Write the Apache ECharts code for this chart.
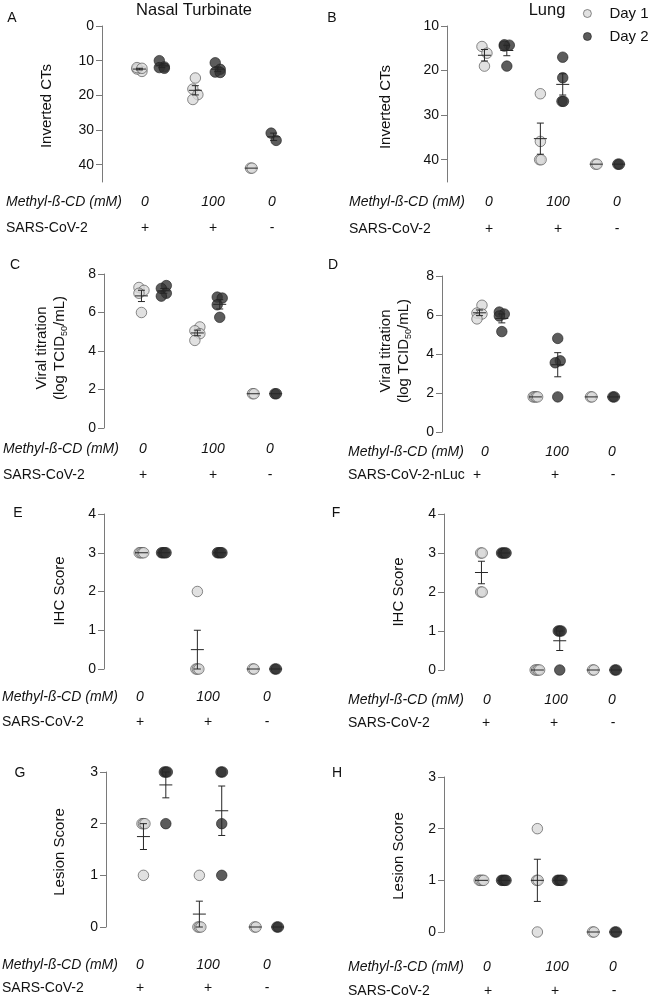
<!DOCTYPE html>
<html>
<head>
<meta charset="utf-8">
<script src="https://cdn.jsdelivr.net/npm/echarts@6/dist/echarts.min.js"></script>
<style>
  html, body { margin: 0; padding: 0; background: #fff; }
  #main { width: 655px; height: 997px; }
</style>
</head>
<body>
<div id="main"></div>
<script>
// row labels under every panel
const doseLabels = ['0', '100', '0'];
const virusLabels = ['+', '+', '-'];
const dayNames = ['Day 1', 'Day 2'];

// individual animals, per group (0 mM +, 100 mM +, 0 mM -)
const ntCtDay1 = [[13.1, 12.4, 12.0, 12.2], [15.0, 18.2, 19.8, 21.2], [41, 41]];
const ntCtDay2 = [[10.0, 11.8, 12.0, 12.2], [10.6, 12.5, 13.3, 13.4], [30.9, 33.0]];
const lungCtDay1 = [[14.6, 16.1, 19.0], [25.2, 35.9, 40, 40], [41, 41]];
const lungCtDay2 = [[14.2, 14.3, 14.5, 19.0], [17.0, 21.6, 26.9, 26.9], [41, 41]];

const ntTiterDay1 = [[7.3, 7.15, 7.0, 6.0], [5.25, 5.05, 4.9, 4.55], [1.78, 1.78]];
const ntTiterDay2 = [[7.4, 7.25, 7.0, 6.85], [6.8, 6.75, 6.4, 5.75], [1.78, 1.78]];
const lungTiterDay1 = [[6.5, 6.1, 6.05, 5.8], [1.8, 1.8, 1.8, 1.8], [1.8, 1.8]];
const lungTiterDay2 = [[6.15, 6.05, 5.95, 5.15], [4.8, 3.65, 3.55, 1.8], [1.8, 1.8]];

const ntIhcDay1 = [[3, 3, 3, 3], [2, 0, 0, 0], [0, 0]];
const ntIhcDay2 = [[3, 3, 3, 3], [3, 3, 3, 3], [0, 0]];
const lungIhcDay1 = [[3, 3, 2, 2], [0, 0, 0, 0], [0, 0]];
const lungIhcDay2 = [[3, 3, 3, 3], [1, 1, 1, 0], [0, 0]];

const ntLesionDay1 = [[2, 2, 2, 1], [1, 0, 0, 0], [0, 0]];
const ntLesionDay2 = [[3, 3, 3, 2], [3, 3, 2, 1], [0, 0]];
const lungLesionDay1 = [[1, 1, 1, 1], [2, 1, 1, 0], [0, 0]];
const lungLesionDay2 = [[1, 1, 1, 1], [1, 1, 1, 1], [0, 0]];

const FONT = 'Liberation Sans, Arial, sans-serif';
const X_MIN = 0.13, X_MAX = 3.6, GRID_W = 194;
const DAY_OFF = 0.2;
const UNIT_PX = GRID_W / (X_MAX - X_MIN);

const panels = [
  { letter: 'A', d1: ntCtDay1, d2: ntCtDay2, min: 0, max: 45, inverse: true, ticks: [0, 10, 20, 30, 40],
    grid: { left: 102, top: 26, height: 156 }, yTitle: 'Inverted CTs', yTitlePos: [47, 106],
    letterPos: [12, 18], rowLeft: 6, doseX: [145, 213, 272], plusX: [145, 213, 272], rowY: [202, 228], virus: 'SARS-CoV-2' },
  { letter: 'B', d1: lungCtDay1, d2: lungCtDay2, min: 10, max: 45, inverse: true, ticks: [10, 20, 30, 40],
    grid: { left: 447, top: 26, height: 156 }, yTitle: 'Inverted CTs', yTitlePos: [386, 107],
    letterPos: [332, 18], rowLeft: 349, doseX: [489, 558, 617], plusX: [489, 558, 617], rowY: [202, 229], virus: 'SARS-CoV-2' },
  { letter: 'C', d1: ntTiterDay1, d2: ntTiterDay2, min: 0, max: 8, ticks: [0, 2, 4, 6, 8],
    grid: { left: 104, top: 274, height: 154 }, titer: true, yTitlePos: [51, 348],
    letterPos: [15, 265], rowLeft: 3, doseX: [143, 213, 270], plusX: [143, 213, 270], rowY: [449, 475], virus: 'SARS-CoV-2' },
  { letter: 'D', d1: lungTiterDay1, d2: lungTiterDay2, min: 0, max: 8, ticks: [0, 2, 4, 6, 8],
    grid: { left: 442, top: 276, height: 156 }, titer: true, yTitlePos: [395, 351],
    letterPos: [333, 265], rowLeft: 348, doseX: [485, 557, 612], plusX: [477, 555, 613], rowY: [452, 475], virus: 'SARS-CoV-2-nLuc' },
  { letter: 'E', d1: ntIhcDay1, d2: ntIhcDay2, min: 0, max: 4, ticks: [0, 1, 2, 3, 4],
    grid: { left: 104, top: 514, height: 155 }, yTitle: 'IHC Score', yTitlePos: [60, 591],
    letterPos: [18, 513], rowLeft: 2, doseX: [140, 208, 267], plusX: [140, 208, 267], rowY: [697, 722], virus: 'SARS-CoV-2' },
  { letter: 'F', d1: lungIhcDay1, d2: lungIhcDay2, min: 0, max: 4, ticks: [0, 1, 2, 3, 4],
    grid: { left: 444, top: 514, height: 156 }, yTitle: 'IHC Score', yTitlePos: [399, 592],
    letterPos: [336, 513], rowLeft: 348, doseX: [487, 556, 612], plusX: [486, 554, 613], rowY: [700, 723], virus: 'SARS-CoV-2' },
  { letter: 'G', d1: ntLesionDay1, d2: ntLesionDay2, min: 0, max: 3, ticks: [0, 1, 2, 3],
    grid: { left: 106, top: 772, height: 155 }, yTitle: 'Lesion Score', yTitlePos: [60, 852],
    letterPos: [20, 773], rowLeft: 2, doseX: [140, 208, 267], plusX: [140, 208, 267], rowY: [965, 988], virus: 'SARS-CoV-2' },
  { letter: 'H', d1: lungLesionDay1, d2: lungLesionDay2, min: 0, max: 3, ticks: [0, 1, 2, 3],
    grid: { left: 444, top: 777, height: 155 }, yTitle: 'Lesion Score', yTitlePos: [399, 856],
    letterPos: [337, 773], rowLeft: 348, doseX: [487, 557, 613], plusX: [488, 555, 614], rowY: [967, 991], virus: 'SARS-CoV-2' }
];

// spread overlapping points sideways a bit, like the prism scatter does
function spreadOffsets(vals, pxPerUnit) {
  const idx = vals.map((v, i) => i).sort((a, b) => vals[a] - vals[b]);
  const off = new Array(vals.length).fill(0);
  let start = 0;
  for (let i = 1; i <= idx.length; i++) {
    if (i === idx.length || (vals[idx[i]] - vals[idx[i - 1]]) * pxPerUnit >= 9) {
      const cl = idx.slice(start, i);
      const k = cl.length;
      if (k > 1) {
        const allEq = cl.every(j => vals[j] === vals[cl[0]]);
        cl.forEach((j, n) => {
          off[j] = allEq ? (n - (k - 1) / 2) * 1.5 : (n % 2 === 0 ? -2.5 : 2.5);
        });
      }
      start = i;
    }
  }
  return off;
}

function meanSem(vals) {
  const n = vals.length;
  const m = vals.reduce((a, b) => a + b, 0) / n;
  if (n < 2) return [m, 0];
  const sd = Math.sqrt(vals.reduce((a, b) => a + (b - m) * (b - m), 0) / (n - 1));
  return [m, sd / Math.sqrt(n)];
}

const dayStyle = [
  { color: '#d9d9d9', borderColor: '#4a4a4a', borderWidth: 0.8 },
  { color: '#333333', borderColor: '#1e1e1e', borderWidth: 0.8 }
];

const grids = [], xAxes = [], yAxes = [], series = [], graphics = [];

function txt(x, y, text, opts) {
  graphics.push({
    type: 'text', x: x, y: y, silent: true, rotation: opts && opts.rotation || 0,
    style: Object.assign({
      text: text, fontFamily: FONT, fontSize: 14, fill: '#111',
      align: 'center', verticalAlign: 'middle'
    }, opts && opts.style)
  });
}

panels.forEach((p, gi) => {
  grids.push({ left: p.grid.left, top: p.grid.top, width: GRID_W, height: p.grid.height, outerBoundsMode: 'none' });
  xAxes.push({ gridIndex: gi, type: 'value', min: X_MIN, max: X_MAX, show: false });
  yAxes.push({
    gridIndex: gi, type: 'value', min: p.min, max: p.max, inverse: !!p.inverse,
    axisLine: { show: true, lineStyle: { color: '#7a7a7a', width: 1 } },
    axisTick: { show: true, length: 6, lineStyle: { color: '#7a7a7a' }, customValues: p.ticks },
    axisLabel: { customValues: p.ticks, color: '#111', fontSize: 14, margin: 8, fontFamily: FONT },
    splitLine: { show: false }
  });
  const pxPerUnit = p.grid.height / (p.max - p.min);
  const bars = [];
  [p.d1, p.d2].forEach((groups, di) => {
    const pts = [];
    groups.forEach((vals, g) => {
      const cx = g + 1 + (di === 0 ? -DAY_OFF : DAY_OFF);
      const off = spreadOffsets(vals, pxPerUnit);
      vals.forEach((v, k) => pts.push([cx + off[k] / UNIT_PX, v]));
      const ms = meanSem(vals);
      bars.push([cx, ms[0], ms[1]]);
    });
    series.push({
      type: 'scatter', name: dayNames[di], xAxisIndex: gi, yAxisIndex: gi,
      data: pts, symbol: 'circle', symbolSize: 10.5, itemStyle: dayStyle[di],
      z: 2, silent: true
    });
  });
  series.push({
    type: 'custom', xAxisIndex: gi, yAxisIndex: gi, data: bars, z: 5, silent: true,
    renderItem: function (params, api) {
      const x = api.value(0), m = api.value(1), s = api.value(2);
      const c = api.coord([x, m]);
      const st = { stroke: '#262626', lineWidth: 1 };
      const ch = [{ type: 'line', shape: { x1: c[0] - 6.5, y1: c[1], x2: c[0] + 6.5, y2: c[1] }, style: st }];
      if (s > 0) {
        const hi = api.coord([x, m + s]), lo = api.coord([x, m - s]);
        ch.push({ type: 'line', shape: { x1: c[0], y1: hi[1], x2: c[0], y2: lo[1] }, style: st });
        ch.push({ type: 'line', shape: { x1: c[0] - 3.5, y1: hi[1], x2: c[0] + 3.5, y2: hi[1] }, style: st });
        ch.push({ type: 'line', shape: { x1: c[0] - 3.5, y1: lo[1], x2: c[0] + 3.5, y2: lo[1] }, style: st });
      }
      return { type: 'group', children: ch };
    }
  });

  // panel letter
  txt(p.letterPos[0], p.letterPos[1], p.letter, { style: { fontSize: 14 } });
  // y axis title
  if (p.titer) {
    graphics.push({
      type: 'text', x: p.yTitlePos[0], y: p.yTitlePos[1], rotation: Math.PI / 2, silent: true,
      style: {
        text: 'Viral titration\n(log TCID{sub|50}/mL)', fontFamily: FONT, fontSize: 15, fill: '#111',
        lineHeight: 18, align: 'center', verticalAlign: 'middle',
        rich: { sub: { fontSize: 9, lineHeight: 9, verticalAlign: 'bottom', fontFamily: FONT, fill: '#111' } }
      }
    });
  } else {
    txt(p.yTitlePos[0], p.yTitlePos[1], p.yTitle, { rotation: Math.PI / 2, style: { fontSize: 15 } });
  }
  // treatment rows
  txt(p.rowLeft, p.rowY[0], 'Methyl-ß-CD (mM)', { style: { align: 'left', fontStyle: 'italic' } });
  txt(p.rowLeft, p.rowY[1], p.virus, { style: { align: 'left' } });
  doseLabels.forEach((d, i) => txt(p.doseX[i], p.rowY[0], d, { style: { fontStyle: 'italic' } }));
  virusLabels.forEach((d, i) => txt(p.plusX[i], p.rowY[1], d));
});

txt(194, 10, 'Nasal Turbinate', { style: { fontSize: 16.5 } });
txt(547, 10, 'Lung', { style: { fontSize: 16.5 } });

const chart = echarts.init(document.getElementById('main'), null, { renderer: 'canvas' });
chart.setOption({
  backgroundColor: '#fff',
  animation: false,
  textStyle: { fontFamily: FONT },
  legend: {
    data: dayNames, orient: 'vertical', left: 578, top: 1,
    itemWidth: 34, itemHeight: 8, itemGap: 8,
    itemStyle: { borderWidth: 0.8 },
    textStyle: { fontSize: 15, color: '#111', fontFamily: FONT }
  },
  grid: grids,
  xAxis: xAxes,
  yAxis: yAxes,
  series: series,
  graphic: graphics
});
</script>
</body>
</html>
